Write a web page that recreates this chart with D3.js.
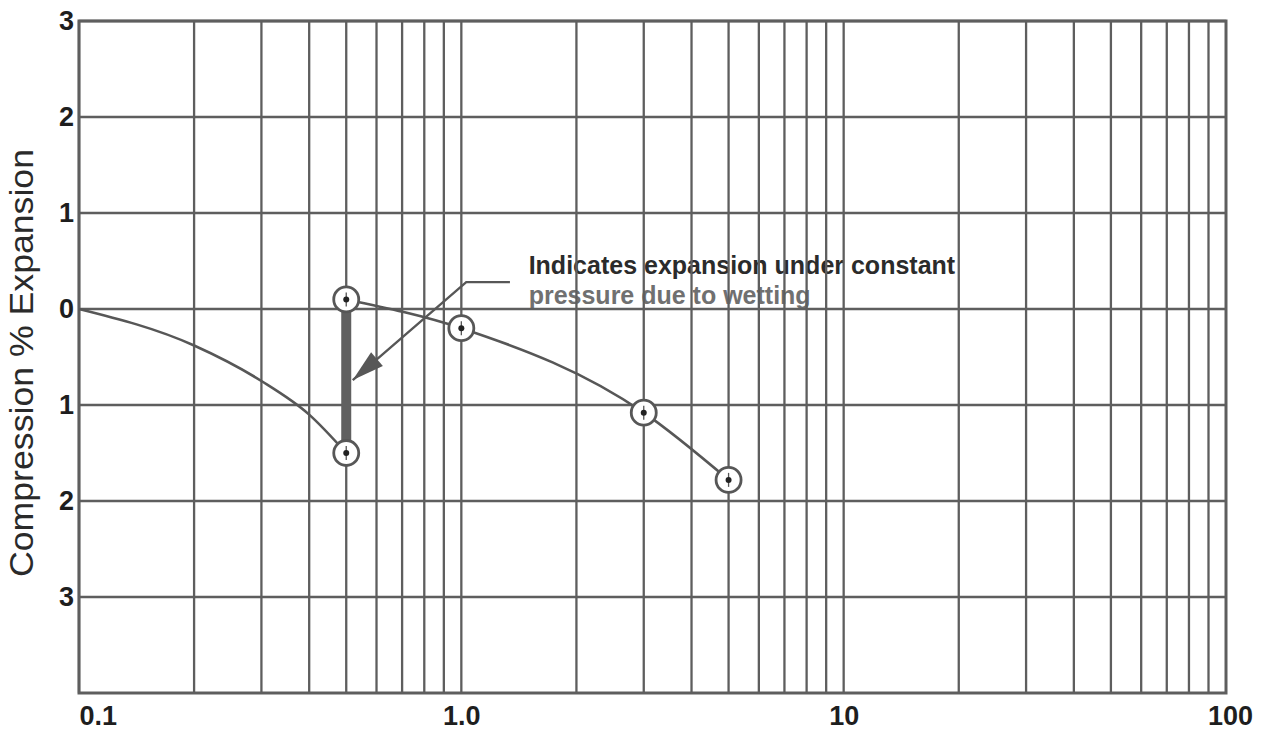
<!DOCTYPE html>
<html>
<head>
<meta charset="utf-8">
<script src="https://cdn.jsdelivr.net/npm/d3@7"></script>
<style>
    body { margin: 0; background: #fff; }
    svg { display: block; font-family: "Liberation Sans", Arial, sans-serif; }
</style>
</head>
<body>
<svg id="chart"></svg>
<script>
// axis ticks
const xTicks = [0.1, 1, 10, 100];
const xTickLabels = ["0.1", "1.0", "10", "100"];
const yTicks = [3, 2, 1, 0, -1, -2, -3];
const yTickLabels = ["3", "2", "1", "0", "1", "2", "3"];

// dry loading curve
const dryLoad = [0.1, 0.2, 0.3, 0.4, 0.5];
const dryStrain = [0, -0.38, -0.75, -1.1, -1.5];

// loading after wetting
const wetLoad = [0.5, 1.0, 3, 5];
const wetStrain = [0.1, -0.2, -1.08, -1.78];

// circled test points
const pointLoad = [0.5, 0.5, 1.0, 3, 5];
const pointStrain = [-1.5, 0.1, -0.2, -1.08, -1.78];

// expansion at constant pressure
const swellLoad = 0.5;
const swellFrom = -1.5;
const swellTo = 0.1;

// note + leader (data coords)
const noteLines = ["Indicates expansion under constant", "pressure due to wetting"];
const noteX = 1.5;
const noteY = [0.36, 0.05];
const leaderX = [1.34, 1.03, 0.52];
const leaderY = [0.28, 0.28, -0.74];

const width = 1269;
const height = 730;
const margin = { top: 21, right: 43, bottom: 37, left: 79 };

const svg = d3.select('#chart')
    .attr('width', width)
    .attr('height', height);

svg.append('rect')
    .attr('width', width)
    .attr('height', height)
    .attr('fill', '#fff');

const xScale = d3.scaleLog()
    .domain([0.1, 100])
    .range([margin.left, width - margin.right]);

const yScale = d3.scaleLinear()
    .domain([-4, 3])
    .range([height - margin.bottom, margin.top]);

const gridColor = '#5e5e5e';
const inkColor = '#575757';

// note text sits under the grid like on the scanned sheet
const note = svg.append('g').attr('font-weight', 'bold').attr('font-size', 25);
note.append('text')
    .attr('x', xScale(noteX))
    .attr('y', yScale(noteY[0]))
    .attr('fill', '#2b2b2b')
    .text(noteLines[0]);
note.append('text')
    .attr('x', xScale(noteX))
    .attr('y', yScale(noteY[1]))
    .attr('fill', '#707070')
    .text(noteLines[1]);

// grid
const minor = [];
[0.1, 1, 10].forEach(d => {
    for (let i = 1; i < 10; i++) minor.push(d * i);
});

svg.append('g')
    .selectAll('line')
    .data(minor)
    .enter()
    .append('line')
    .attr('x1', d => xScale(d))
    .attr('x2', d => xScale(d))
    .attr('y1', yScale(3))
    .attr('y2', yScale(-4))
    .attr('stroke', gridColor)
    .attr('stroke-width', 2.3);

svg.append('g')
    .selectAll('line')
    .data(yTicks)
    .enter()
    .append('line')
    .attr('x1', xScale(0.1))
    .attr('x2', xScale(100))
    .attr('y1', d => yScale(d))
    .attr('y2', d => yScale(d))
    .attr('stroke', gridColor)
    .attr('stroke-width', 2.3);

svg.append('rect')
    .attr('x', xScale(0.1))
    .attr('y', yScale(3))
    .attr('width', xScale(100) - xScale(0.1))
    .attr('height', yScale(-4) - yScale(3))
    .attr('fill', 'none')
    .attr('stroke', gridColor)
    .attr('stroke-width', 3);

// curves
const line = d3.line()
    .x(d => xScale(d[0]))
    .y(d => yScale(d[1]))
    .curve(d3.curveMonotoneX);

svg.append('path')
    .datum(d3.zip(dryLoad, dryStrain))
    .attr('d', line)
    .attr('fill', 'none')
    .attr('stroke', inkColor)
    .attr('stroke-width', 2.6);

svg.append('path')
    .datum(d3.zip(wetLoad, wetStrain))
    .attr('d', line)
    .attr('fill', 'none')
    .attr('stroke', inkColor)
    .attr('stroke-width', 2.6);

// swell bar
svg.append('line')
    .attr('x1', xScale(swellLoad))
    .attr('x2', xScale(swellLoad))
    .attr('y1', yScale(swellFrom))
    .attr('y2', yScale(swellTo))
    .attr('stroke', '#606060')
    .attr('stroke-width', 10);

// points
const pts = svg.append('g')
    .selectAll('g')
    .data(d3.zip(pointLoad, pointStrain))
    .enter()
    .append('g')
    .attr('transform', d => `translate(${xScale(d[0])},${yScale(d[1])})`);

pts.append('circle')
    .attr('r', 12.5)
    .attr('fill', '#fff')
    .attr('stroke', inkColor)
    .attr('stroke-width', 2.8);

pts.append('line')
    .attr('y1', -7)
    .attr('y2', 7)
    .attr('stroke', '#555')
    .attr('stroke-width', 1.3);

pts.append('circle')
    .attr('r', 3)
    .attr('fill', '#222');

// leader + arrowhead
const lead = d3.zip(leaderX, leaderY).map(d => [xScale(d[0]), yScale(d[1])]);
svg.append('path')
    .attr('d', d3.line()(lead))
    .attr('fill', 'none')
    .attr('stroke', inkColor)
    .attr('stroke-width', 2.4);

const tip = lead[lead.length - 1];
const prev = lead[lead.length - 2];
const len = Math.hypot(tip[0] - prev[0], tip[1] - prev[1]);
const ux = (tip[0] - prev[0]) / len;
const uy = (tip[1] - prev[1]) / len;
const bx = tip[0] - ux * 32;
const by = tip[1] - uy * 32;
svg.append('path')
    .attr('d', `M${tip[0]},${tip[1]}L${bx - uy * 9},${by + ux * 9}L${bx + uy * 9},${by - ux * 9}Z`)
    .attr('fill', inkColor);

// axes
const xAxis = d3.axisBottom(xScale)
    .tickValues(xTicks)
    .tickFormat((d, i) => xTickLabels[i])
    .tickSize(0)
    .tickPadding(13);

const yAxis = d3.axisLeft(yScale)
    .tickValues(yTicks)
    .tickFormat((d, i) => yTickLabels[i])
    .tickSize(0)
    .tickPadding(5);

const gx = svg.append('g')
    .attr('id', 'x-axis')
    .attr('transform', `translate(0, ${yScale(-4)})`)
    .call(xAxis);

const gy = svg.append('g')
    .attr('id', 'y-axis')
    .attr('transform', `translate(${xScale(0.1)}, 0)`)
    .call(yAxis);

[gx, gy].forEach(g => {
    g.select('.domain').remove();
    g.selectAll('text')
        .attr('font-size', 27)
        .attr('font-weight', 'bold')
        .attr('font-family', '"Liberation Sans", Arial, sans-serif')
        .attr('fill', '#1e1e1e');
});

gx.selectAll('.tick text').filter((d, i) => i === 0).attr('text-anchor', 'start');
gx.selectAll('.tick text').filter((d, i) => i === xTicks.length - 1).attr('dx', 4);

svg.append('text')
    .attr('transform', `translate(33, ${(yScale(3) + yScale(-4)) / 2 + 6}) rotate(-90)`)
    .attr('text-anchor', 'middle')
    .attr('font-size', 34)
    .attr('fill', '#2a2a2a')
    .attr('textLength', 428)
    .attr('lengthAdjust', 'spacingAndGlyphs')
    .text('Compression % Expansion');
</script>
</body>
</html>
